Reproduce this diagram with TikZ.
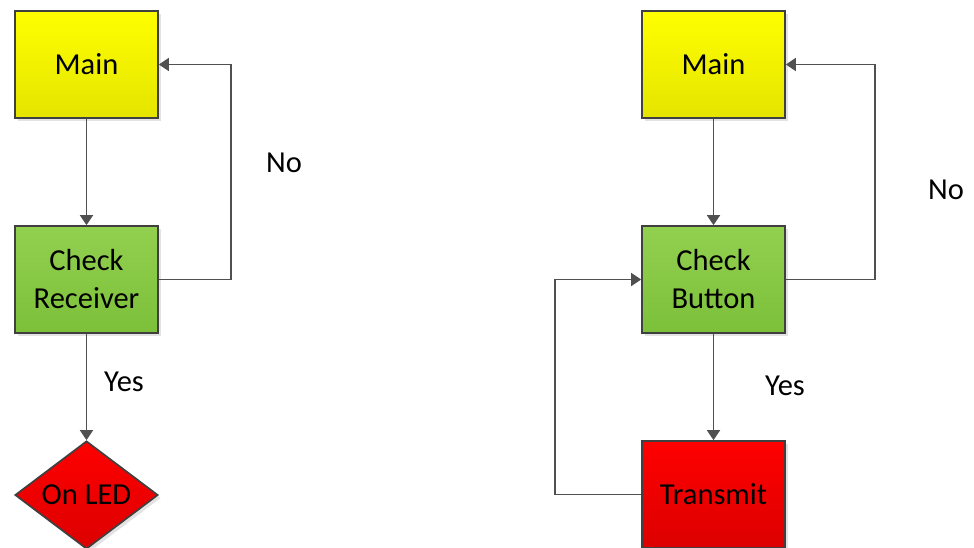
\documentclass[tikz,border=0pt]{standalone}
\usepackage{fontspec}
\setmainfont{Carlito}
\usetikzlibrary{arrows.meta,shapes.geometric,shadows}

\definecolor{edgegray}{HTML}{404040}
\definecolor{linegray}{HTML}{505050}
\definecolor{yelTop}{HTML}{FFFF00}
\definecolor{yelBot}{HTML}{E4E400}
\definecolor{grnTop}{HTML}{92D050}
\definecolor{grnBot}{HTML}{7CC03A}
\definecolor{redTop}{HTML}{FF0000}
\definecolor{redBot}{HTML}{DC0000}

\tikzset{
  box/.style={draw=edgegray, line width=1.7pt, minimum width=143pt, minimum height=107pt,
    inner sep=0pt, align=center, font=\fontsize{30.5}{38}\selectfont,
    drop shadow={shadow xshift=3pt, shadow yshift=-3pt, fill=black!18, opacity=0.6}},
  mainbox/.style={box, top color=yelTop, bottom color=yelBot},
  checkbox/.style={box, top color=grnTop, bottom color=grnBot},
  actbox/.style={box, top color=redTop, bottom color=redBot},
  decision/.style={box, shape=diamond, shape aspect=2, minimum width=143pt, minimum height=108pt},
  flow/.style={draw=linegray, line width=1.8pt, -{Triangle[length=10pt,width=13pt]}},
  lbl/.style={font=\fontsize{30.5}{36}\selectfont, inner sep=0pt}
}

\begin{document}
\begin{tikzpicture}[x=1pt,y=-1pt]
  \useasboundingbox (0,0) rectangle (974,548);
  \clip (0,0) rectangle (974,548);

  % receiver side
  \node[mainbox]  (mainA) at (86.5,64.5)  {Main};
  \node[checkbox] (chkR)  at (86.5,279.5) {Check\\Receiver};
  \node[decision, top color=redTop, bottom color=redBot] (led) at (86.5,495) {On LED};

  \draw[flow] (mainA.south) -- (chkR.north);
  \draw[flow] (chkR.east) -- ++(72,0) |- (mainA.east);
  \draw[flow] (chkR.south) -- (led.north);
  \node[lbl] (noA)  at (284,163) {No};
  \node[lbl] (yesA) at (124,382) {Yes};

  % transmitter side
  \node[mainbox]  (mainB) at (713.5,64.5)  {Main};
  \node[checkbox] (chkB)  at (713.5,279.5) {Check\\Button};
  \node[actbox]   (tx)    at (713.5,494.5) {Transmit};

  \draw[flow] (mainB.south) -- (chkB.north);
  \draw[flow] (chkB.east) -- ++(89,0) |- (mainB.east);
  \draw[flow] (chkB.south) -- (tx.north);
  \draw[flow] (tx.west) -- ++(-86,0) |- (chkB.west);
  \node[lbl] (noB)  at (946,190) {No};
  \node[lbl] (yesB) at (785,386) {Yes};
\end{tikzpicture}
\end{document}
